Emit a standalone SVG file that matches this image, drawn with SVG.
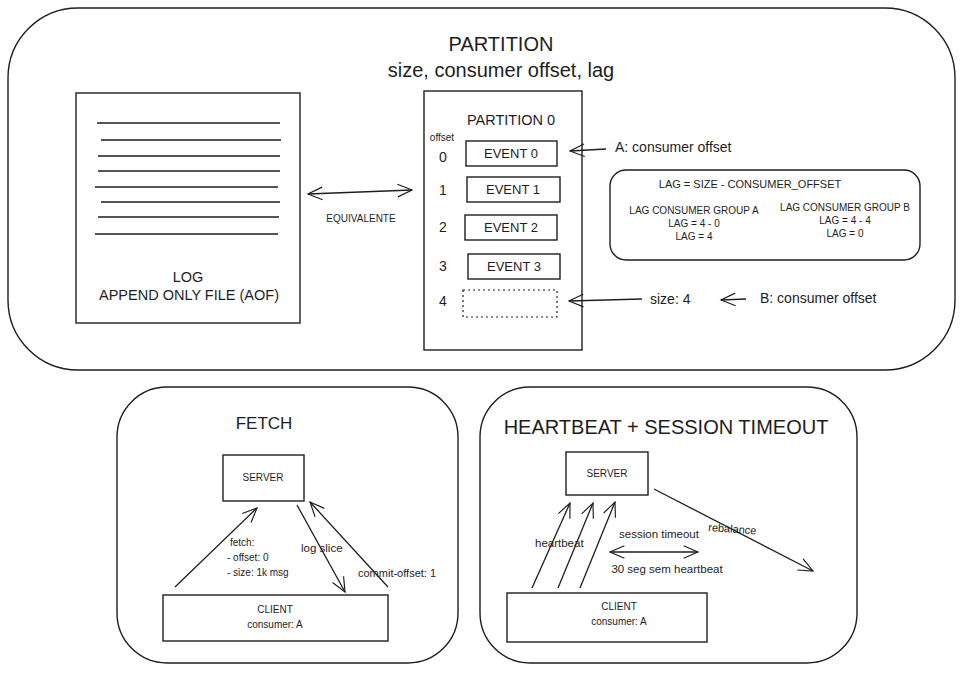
<svg xmlns="http://www.w3.org/2000/svg" width="960" height="674" viewBox="0 0 960 674">
<defs>
<style>
.bx{fill:none;stroke:#1e1e1e;stroke-width:1.4}
.ln{fill:none;stroke:#1e1e1e;stroke-width:1.3}
.ar{fill:none;stroke:#1e1e1e;stroke-width:1.3;marker-end:url(#ah)}
.ar2{fill:none;stroke:#1e1e1e;stroke-width:1.3;marker-end:url(#ah);marker-start:url(#ahs)}
text{font-family:"Liberation Sans","Open Sans",sans-serif;fill:#1e1e1e;text-anchor:middle}
.t1{font-size:20px}
.t2{font-size:13px}
.t2b{font-size:14.5px}
.t3{font-size:14px}
.t4{font-size:10px}
.t4b{font-size:11px}
.t4c{font-size:11.5px}
.t5{font-size:17px}
.t6{font-size:20px}
.st{text-anchor:start}
</style>
<marker id="ah" viewBox="0 0 20 20" refX="18" refY="10" markerWidth="18" markerHeight="18" markerUnits="userSpaceOnUse" orient="auto">
<path d="M2,3 L18,10 L2,17" fill="none" stroke="#1e1e1e" stroke-width="1.3"/>
</marker>
<marker id="ahs" viewBox="0 0 20 20" refX="18" refY="10" markerWidth="18" markerHeight="18" markerUnits="userSpaceOnUse" orient="auto-start-reverse">
<path d="M2,3 L18,10 L2,17" fill="none" stroke="#1e1e1e" stroke-width="1.3"/>
</marker>
</defs>
<rect width="960" height="674" fill="#ffffff"/>

<g id="partition-frame">
<rect class="bx" x="8" y="8" width="947" height="362" rx="70" ry="70"/>
<text class="t1" x="501" y="51">PARTITION</text>
<text class="t1" x="501" y="77">size, consumer offset, lag</text>
</g>

<g id="log">
<rect class="bx" x="76" y="93" width="224" height="230"/>
<path class="ln" d="M97,123 H280 M101,140 H281 M98,156 H280 M98,171 H280 M95,187 H278 M101,202 H280 M98,217 H279 M95,234 H278"/>
<text class="t2b" x="188" y="282">LOG</text>
<text class="t2b" x="189" y="300">APPEND ONLY FILE (AOF)</text>
</g>

<g id="partition0">
<rect class="bx" x="424" y="91" width="158" height="259"/>
<text class="t2b" x="511" y="125">PARTITION 0</text>
<text class="t4" x="442" y="141">offset</text>
<text class="t3" x="443" y="162">0</text>
<text class="t3" x="443" y="195">1</text>
<text class="t3" x="443" y="232">2</text>
<text class="t3" x="443" y="271">3</text>
<text class="t3" x="443" y="306">4</text>
</g>
<g id="event0"><rect class="bx" x="466" y="141" width="91" height="25"/><text class="t2" x="511" y="158">EVENT 0</text></g>
<g id="event1"><rect class="bx" x="467" y="177" width="93" height="25"/><text class="t2" x="513" y="194">EVENT 1</text></g>
<g id="event2"><rect class="bx" x="465" y="215" width="92" height="25"/><text class="t2" x="511" y="232">EVENT 2</text></g>
<g id="event3"><rect class="bx" x="468" y="254" width="92" height="25"/><text class="t2" x="514" y="271">EVENT 3</text></g>
<g id="event4"><rect x="463" y="290" width="94" height="27" fill="none" stroke="#1e1e1e" stroke-width="1.2" stroke-dasharray="2,3"/></g>

<g id="lag-box">
<rect class="bx" x="610" y="170" width="310" height="90" rx="16" ry="16"/>
<text class="t4b" x="750" y="188">LAG = SIZE - CONSUMER_OFFSET</text>
<text class="t4" x="694" y="214">LAG CONSUMER GROUP A</text>
<text class="t4" x="694" y="227">LAG = 4 - 0</text>
<text class="t4" x="694" y="240">LAG = 4</text>
<text class="t4" x="845" y="211">LAG CONSUMER GROUP B</text>
<text class="t4" x="845" y="224">LAG = 4 - 4</text>
<text class="t4" x="845" y="237">LAG = 0</text>
</g>

<g id="labels-top">
<text class="t3 st" x="615" y="152">A: consumer offset</text>
<text class="t3 st" x="650" y="304">size: 4</text>
<text class="t3 st" x="760" y="303">B: consumer offset</text>
<text class="t4" x="361" y="222">EQUIVALENTE</text>
</g>

<g id="fetch-frame">
<rect class="bx" x="117" y="387" width="341" height="276" rx="50" ry="50"/>
<text class="t5" x="264" y="429">FETCH</text>
</g>
<g id="fetch-server"><rect class="bx" x="223" y="455" width="81" height="46"/><text class="t4" x="263" y="481">SERVER</text></g>
<g id="fetch-client"><rect class="bx" x="163" y="595" width="225" height="46"/><text class="t4" x="275" y="613">CLIENT</text><text class="t4" x="275" y="628">consumer: A</text></g>

<g id="hb-frame">
<rect class="bx" x="480" y="387" width="377" height="276" rx="50" ry="50"/>
<text class="t6" x="666" y="434">HEARTBEAT + SESSION TIMEOUT</text>
</g>
<g id="hb-server"><rect class="bx" x="566" y="452" width="82" height="43"/><text class="t4" x="607" y="477">SERVER</text></g>
<g id="hb-client"><rect class="bx" x="507" y="593" width="200" height="49"/><text class="t4" x="619" y="610">CLIENT</text><text class="t4" x="619" y="625">consumer: A</text></g>

<g id="connectors">
<line class="ar2" x1="308" y1="194" x2="412" y2="190"/>
<line class="ar" x1="606" y1="149" x2="570" y2="151"/>
<line class="ar" x1="642" y1="299" x2="569" y2="301"/>
<line class="ar" x1="746" y1="299" x2="721" y2="300"/>
<line class="ar" x1="175" y1="587" x2="257" y2="508"/>
<line class="ar" x1="297" y1="505" x2="345" y2="592"/>
<line class="ar" x1="388" y1="587" x2="310" y2="502"/>
<line class="ar" x1="532" y1="588" x2="570" y2="503"/>
<line class="ar" x1="558" y1="588" x2="593" y2="503"/>
<line class="ar" x1="580" y1="588" x2="615" y2="502"/>
<line class="ar2" x1="610" y1="552" x2="698" y2="552"/>
<line class="ar" x1="654" y1="489" x2="813" y2="571"/>
</g>

<g id="connector-labels">
<text class="t4 st" x="230" y="546">fetch:</text>
<text class="t4 st" x="227" y="561">- offset: 0</text>
<text class="t4 st" x="227" y="576">- size: 1k msg</text>
<text class="t4c st" x="301" y="552">log slice</text>
<text class="t4b st" x="358" y="577">commit-offset: 1</text>
<text class="t4c st" x="535" y="547">heartbeat</text>
<text class="t4c" x="659" y="538">session timeout</text>
<text class="t4c" x="667" y="573">30 seg sem heartbeat</text>
<text class="t4b st" x="708" y="531" transform="rotate(4 708 531)">rebalance</text>
</g>
</svg>
